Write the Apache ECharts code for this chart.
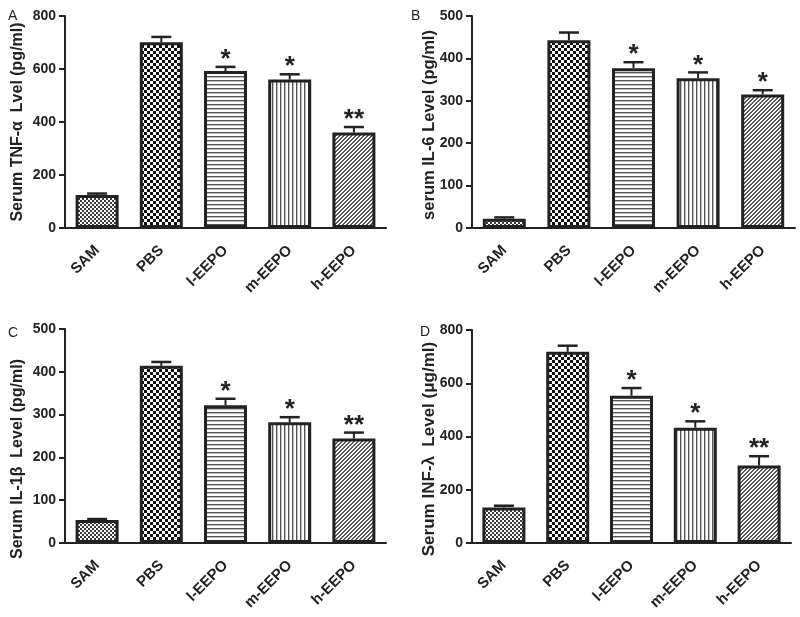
<!DOCTYPE html>
<html>
<head>
<meta charset="utf-8">
<script src="https://cdn.jsdelivr.net/npm/echarts@6/dist/echarts.min.js"></script>
<style>html,body{margin:0;padding:0;background:#fff;}#chart{width:800px;height:617px;}</style>
</head>
<body>
<div id="chart"></div>
<script>
// ---- data ----
const categories = ['SAM', 'PBS', 'l-EEPO', 'm-EEPO', 'h-EEPO'];

const tnfMean = [125, 701, 592, 560, 360];
const tnfSem  = [5, 20, 16, 20, 21];
const tnfSig  = ['', '', '*', '*', '**'];

const il6Mean = [22, 443, 377, 353, 315];
const il6Sem  = [3, 18, 14, 14, 10];
const il6Sig  = ['', '', '*', '*', '*'];

const il1Mean = [54, 414, 322, 282, 244];
const il1Sem  = [2, 9, 15, 12, 14];
const il1Sig  = ['', '', '*', '*', '**'];

const infMean = [133, 718, 553, 433, 291];
const infSem  = [7, 23, 29, 24, 35];
const infSig  = ['', '', '*', '*', '**'];

const yTicksA = [0, 200, 400, 600, 800];
const yTicksB = [0, 100, 200, 300, 400, 500];
const yTicksC = [0, 100, 200, 300, 400, 500];
const yTicksD = [0, 200, 400, 600, 800];

const panelLetters = ['A', 'B', 'C', 'D'];
const yTitles = [
  'Serum TNF-α  Lvel (pg/ml)',
  'serum IL-6 Level (pg/ml)',
  'Serum IL-1β  Level (pg/ml)',
  'Serum INF-λ  Level (μg/ml)'
];

// ---- styles ----
const FONT = '"Liberation Sans", Arial, Helvetica, sans-serif';
const INK = '#222';

function makePattern(kind) {
  const c = document.createElement('canvas');
  let w = 4, h = 4;
  if (kind === 'checker') { w = 6; h = 6; }
  c.width = w; c.height = h;
  const ctx = c.getContext('2d');
  ctx.fillStyle = '#fff';
  ctx.fillRect(0, 0, w, h);
  if (kind === 'fine') {
    ctx.fillStyle = '#3a3a3a';
    ctx.fillRect(0, 0, 2, 2); ctx.fillRect(2, 2, 2, 2);
  } else if (kind === 'checker') {
    ctx.fillStyle = '#111';
    ctx.fillRect(0, 0, 3, 3); ctx.fillRect(3, 3, 3, 3);
  } else if (kind === 'hlines') {
    ctx.fillStyle = '#555';
    ctx.fillRect(0, 0, w, 1);
    ctx.fillStyle = '#bbb';
    ctx.fillRect(0, 1, w, 1);
  } else if (kind === 'vlines') {
    ctx.fillStyle = '#555';
    ctx.fillRect(0, 0, 1, h);
    ctx.fillStyle = '#bbb';
    ctx.fillRect(1, 0, 1, h);
  } else if (kind === 'diag') {
    ctx.fillStyle = '#555';
    const pts = [[2,0],[3,0],[1,1],[2,1],[0,2],[1,2],[3,3],[0,3]];
    pts.forEach(p => ctx.fillRect(p[0], p[1], 1, 1));
  }
  return { image: c, repeat: 'repeat' };
}
const patterns = ['fine', 'checker', 'hlines', 'vlines', 'diag'].map(makePattern);

const panels = [
  { mean: tnfMean, sem: tnfSem, sig: tnfSig, ticks: yTicksA,
    grid: { left: 65, top: 16, width: 321, height: 212 },
    letterPos: [8, 9], titlePos: [18, 122], titleSize: 16 },
  { mean: il6Mean, sem: il6Sem, sig: il6Sig, ticks: yTicksB,
    grid: { left: 472, top: 16, width: 323, height: 212 },
    letterPos: [411, 9], titlePos: [429, 125], titleSize: 16.5 },
  { mean: il1Mean, sem: il1Sem, sig: il1Sig, ticks: yTicksC,
    grid: { left: 65, top: 329, width: 321, height: 214 },
    letterPos: [8, 326], titlePos: [18, 459], titleSize: 16 },
  { mean: infMean, sem: infSem, sig: infSig, ticks: yTicksD,
    grid: { left: 472, top: 330, width: 319, height: 213 },
    letterPos: [420, 325], titlePos: [429, 449], titleSize: 17 }
];

const option = {
  animation: false,
  backgroundColor: '#fff',
  grid: [], xAxis: [], yAxis: [], series: [], graphic: []
};

panels.forEach((p, k) => {
  option.grid.push(Object.assign({ containLabel: false }, p.grid));
  option.xAxis.push({
    type: 'category', gridIndex: k, data: categories,
    axisLine: { lineStyle: { color: INK, width: 2 } },
    axisTick: { alignWithLabel: true, length: 6, lineStyle: { color: INK, width: 2 } },
    axisLabel: { rotate: 45, margin: 20, color: INK, fontWeight: 'bold', fontSize: 15, fontFamily: FONT, interval: 0 }
  });
  const t = p.ticks;
  option.yAxis.push({
    type: 'value', gridIndex: k, min: t[0], max: t[t.length - 1], interval: t[1] - t[0],
    splitLine: { show: false },
    axisLine: { show: true, lineStyle: { color: INK, width: 2 } },
    axisTick: { show: true, length: 6, lineStyle: { color: INK, width: 2 } },
    axisLabel: { margin: 9, color: INK, fontWeight: 'bold', fontSize: 14, fontFamily: FONT }
  });
  option.series.push({
    type: 'bar', xAxisIndex: k, yAxisIndex: k, barWidth: 43,
    data: p.mean.map((v, i) => ({ value: v, itemStyle: { color: patterns[i] } })),
    itemStyle: { borderColor: INK, borderWidth: 3 },
    emphasis: { disabled: true }
  });
  const sig = p.sig;
  option.series.push({
    type: 'custom', xAxisIndex: k, yAxisIndex: k, z: 5,
    encode: { x: 0, y: 1 },
    data: p.mean.map((v, i) => [i, v, p.sem[i]]),
    renderItem: function (params, api) {
      const i = params.dataIndex;
      const m = api.value(1), s = api.value(2);
      const base = api.coord([api.value(0), m]);
      const top = api.coord([api.value(0), m + s]);
      const cap = 10;
      const children = [
        { type: 'line', shape: { x1: base[0], y1: base[1], x2: top[0], y2: top[1] }, style: { stroke: INK, lineWidth: 2 } },
        { type: 'line', shape: { x1: top[0] - cap, y1: top[1], x2: top[0] + cap, y2: top[1] }, style: { stroke: INK, lineWidth: 2.5 } }
      ];
      if (sig[i]) {
        children.push({ type: 'text', x: top[0], y: top[1] + 6,
          style: { text: sig[i], font: 'bold 26px ' + FONT, fill: INK, align: 'center', verticalAlign: 'bottom' } });
      }
      return { type: 'group', children: children };
    }
  });
  option.graphic.push({
    type: 'text', left: p.letterPos[0], top: p.letterPos[1],
    style: { text: panelLetters[k], font: '14px ' + FONT, fill: INK }
  });
  option.graphic.push({
    type: 'text', x: p.titlePos[0], y: p.titlePos[1], rotation: Math.PI / 2,
    style: { text: yTitles[k], font: 'bold ' + p.titleSize + 'px ' + FONT, fill: INK, align: 'center', verticalAlign: 'middle' }
  });
});

const chart = echarts.init(document.getElementById('chart'), null, { renderer: 'canvas' });
chart.setOption(option);
</script>
</body>
</html>
